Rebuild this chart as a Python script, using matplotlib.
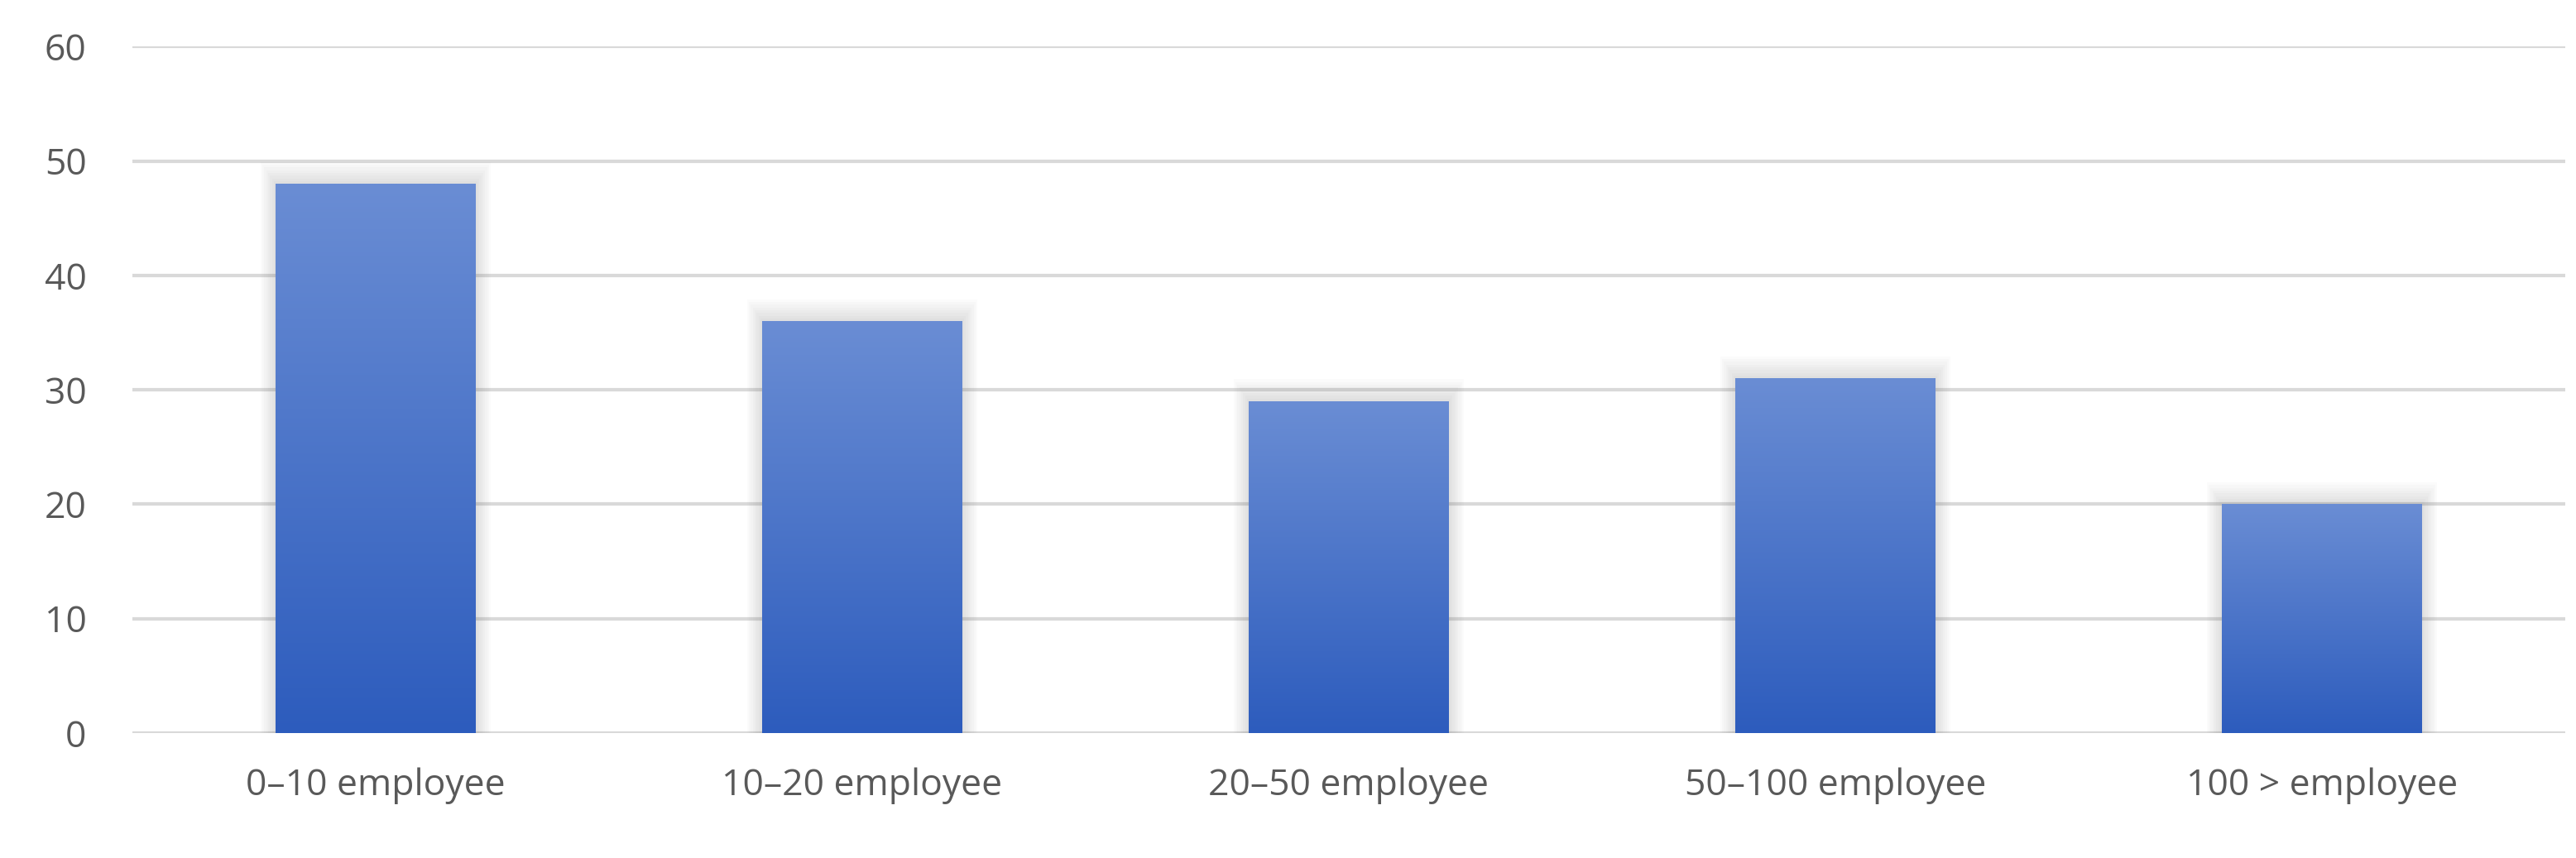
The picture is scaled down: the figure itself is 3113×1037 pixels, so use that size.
import matplotlib.pyplot as plt
import numpy as np
from matplotlib.patches import Rectangle

categories = ["0\u201310 employee", "10\u201320 employee", "20\u201350 employee",
              "50\u2013100 employee", "100 > employee"]
values = [48, 36, 29, 31, 20]

plt.rcParams["font.family"] = ["Open Sans", "DejaVu Sans"]

fig = plt.figure(figsize=(31.13, 10.37), dpi=100)
ax = fig.add_axes([0.0514, 0.1456, 0.9444, 0.80])

x = np.arange(len(categories))
width = 0.41
grad = np.linspace(0, 1, 256).reshape(-1, 1)
top = np.array([0x6a, 0x8d, 0xd4]) / 255
bot = np.array([0x2d, 0x5c, 0xbd]) / 255
img = bot + (top - bot) * grad  # row 0 = bottom with origin lower
img = img.reshape(256, 1, 3)

for xi, v in zip(x, values):
    # soft shadow
    for k in range(8):
        pad = 0.004 * (8 - k)
        ax.add_patch(Rectangle((xi - width / 2 - pad, 0), width + 2 * pad, v + pad * 60,
                               color="#808080", alpha=0.03, lw=0, zorder=2))
    bar = Rectangle((xi - width / 2, 0), width, v, lw=0, fc="none", zorder=3)
    ax.add_patch(bar)
    im = ax.imshow(img, extent=(xi - width / 2, xi + width / 2, 0, v),
                   origin="lower", aspect="auto", zorder=3)
    im.set_clip_path(bar)

ax.set_xlim(-0.5, len(categories) - 0.5)
ax.set_ylim(0, 60)
ax.set_yticks(range(0, 61, 10))
ax.set_xticks(x)
ax.set_xticklabels(categories)
ax.yaxis.grid(True, color="#d9d9d9", lw=3)
ax.set_axisbelow(True)
for s in ax.spines.values():
    s.set_visible(False)
ax.tick_params(length=0, labelsize=32, labelcolor="#595959")
ax.tick_params(axis="x", pad=30)
ax.tick_params(axis="y", pad=40)

fig.savefig("out.png")
